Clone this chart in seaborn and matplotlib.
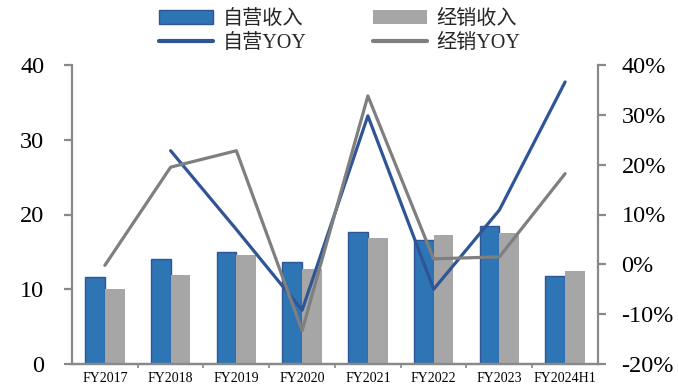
import numpy as np
import pandas as pd
import matplotlib
matplotlib.use("Agg")
import matplotlib.pyplot as plt
import seaborn as sns
from matplotlib.patches import Patch
from matplotlib.lines import Line2D
from matplotlib.ticker import FixedLocator, FuncFormatter

# Revenue (bars, left axis) and year-on-year growth in % (lines, right axis)
years = ["FY2017", "FY2018", "FY2019", "FY2020", "FY2021", "FY2022", "FY2023", "FY2024H1"]
direct_rev = [11.6, 14.0, 15.0, 13.7, 17.7, 16.6, 18.5, 11.8]
dealer_rev = [10.0, 11.9, 14.6, 12.7, 16.9, 17.2, 17.5, 12.4]
direct_yoy = [np.nan, 22.8, 7.0, -9.2, 29.8, -5.0, 10.9, 36.6]
dealer_yoy = [-0.2, 19.5, 22.8, -13.3, 33.8, 1.1, 1.5, 18.2]
bar_names = ["自营收入", "经销收入"]
line_names = ["自营YOY", "经销YOY"]
left_ticks = [0, 10, 20, 30, 40]
right_ticks = [-20, -10, 0, 10, 20, 30, 40]

BLUE = "#2E75B6"
BLUE_EDGE = "#2F5597"
GREY = "#A6A6A6"
BLUE_LINE = "#2F5597"
GREY_LINE = "#7F7F7F"
SPINE = "#898989"

sns.set_theme(style="white")
plt.rcParams["font.family"] = ["Liberation Serif", "Noto Sans CJK SC"]

bars = pd.DataFrame({
    "year": years * 2,
    "value": direct_rev + dealer_rev,
    "kind": [bar_names[0]] * len(years) + [bar_names[1]] * len(years),
})

fig = plt.figure(figsize=(6.78, 3.90), dpi=100)
ax = fig.add_axes([72 / 678, 1 - 364 / 390, (598 - 72) / 678, (364 - 65) / 390])

sns.barplot(data=bars, x="year", y="value", hue="kind", order=years,
            hue_order=bar_names, palette=[BLUE, GREY], width=0.6,
            saturation=1, legend=False, ax=ax)
n = len(years)
for i, p in enumerate(ax.patches[:2 * n]):
    if i < n:
        p.set_edgecolor(BLUE_EDGE)
        p.set_linewidth(1.0)
    else:
        p.set_linewidth(0)

ax.set_ylim(0, 40)
ax.set_yticks(left_ticks)
ax.set_xlim(-0.5, n - 0.5)
ax.set_xlabel("")
ax.set_ylabel("")

ax2 = ax.twinx()
lines = pd.DataFrame({"year": years, "direct": direct_yoy, "dealer": dealer_yoy})
sns.lineplot(data=lines, x="year", y="direct", color=BLUE_LINE, linewidth=2.3, ax=ax2)
sns.lineplot(data=lines, x="year", y="dealer", color=GREY_LINE, linewidth=2.3, ax=ax2)
ax2.set_ylim(-20, 40)
ax2.set_yticks(right_ticks)
ax2.yaxis.set_major_formatter(FuncFormatter(lambda v, _: f"{v:.0f}%"))
ax2.set_ylabel("")
ax.set_xlim(-0.5, n - 0.5)

for a in (ax, ax2):
    for s in a.spines.values():
        s.set_color(SPINE)
        s.set_linewidth(1.6)
    a.spines["top"].set_visible(False)
ax.spines["right"].set_visible(False)
ax2.spines["left"].set_visible(False)

ax.tick_params(axis="y", which="major", direction="out", length=6, width=1.6,
               color=SPINE, left=True, labelsize=17.5, pad=14, labelcolor="black")
ax2.tick_params(axis="y", which="major", direction="out", length=6, width=1.6,
                color=SPINE, right=True, labelsize=17.5, pad=11, labelcolor="black")
ax.xaxis.set_minor_locator(FixedLocator(np.arange(0.5, n - 0.5, 1.0)))
ax.tick_params(axis="x", which="major", length=0, labelsize=10, pad=6, labelcolor="black")
ax.tick_params(axis="x", which="minor", direction="out", length=3, width=1.2,
               color=SPINE, bottom=True)
ax2.tick_params(axis="x", which="both", length=0)

handles = [
    Patch(facecolor=BLUE, edgecolor=BLUE_EDGE, linewidth=1.0),
    Line2D([], [], color=BLUE_LINE, linewidth=3),
    Patch(facecolor=GREY, edgecolor="none"),
    Line2D([], [], color=GREY_LINE, linewidth=3),
]
labels = [bar_names[0], line_names[0], bar_names[1], line_names[1]]
fig.legend(handles, labels, ncol=2, loc="upper left",
           bbox_to_anchor=(159 / 678, 1 - 10 / 390), frameon=False,
           fontsize=14.5, handlelength=2.7, handleheight=0.7, handletextpad=0.45,
           columnspacing=3.3, labelspacing=0.22, borderpad=0, borderaxespad=0)

fig.savefig("out.png", dpi=100)
